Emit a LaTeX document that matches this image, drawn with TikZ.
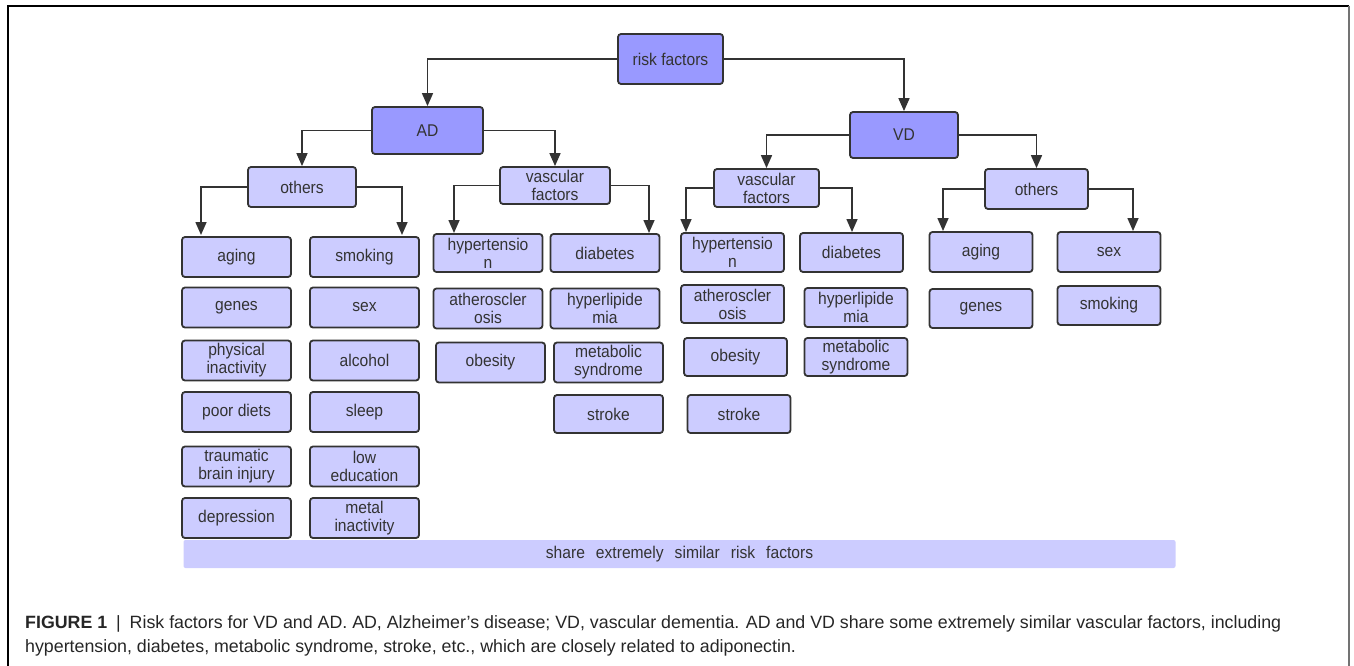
\documentclass[tikz,border=0pt]{standalone}
\usepackage{fontspec}
\setmainfont{Liberation Sans}
\newfontfamily\boxfont[FakeStretch=0.92]{Liberation Sans}
\usetikzlibrary{arrows.meta}
\definecolor{dkblue}{RGB}{153,153,255}
\definecolor{ltblue}{RGB}{204,204,255}
\definecolor{edge}{RGB}{51,51,51}
\tikzset{
	box/.style={draw=edge, line width=1.8pt, rounded corners=3pt, fill=ltblue, text=edge,
		align=center, inner sep=1pt, font=\boxfont\fontsize{17}{18}\selectfont},
	head/.style={box, fill=dkblue},
	wide/.style={box, minimum width=109pt, minimum height=40pt},
	slim/.style={box, minimum width=103pt, minimum height=39pt},
	conn/.style={draw=edge, line width=1.6pt, -{Triangle[length=13pt,width=11pt]}},
	captxt/.style={anchor=base west, inner sep=0pt, text=black!85, font=\fontsize{17.8}{20}\selectfont},
}

\begin{document}
\begin{tikzpicture}[x=1pt,y=-1pt]
		%%%%% START %%%%%
		\useasboundingbox (0,0) rectangle (1354,666);
		
		% frame
		\draw[line width=1.8pt] (8,666) -- (8,6) -- (1349,6);
		\draw[line width=1.8pt, color=black!55] (1349,6) -- (1349,666);
		
		% top levels
		\node[head, minimum width=105pt, minimum height=50pt] (risk) at (670.5,59) {risk factors};
		\node[head, minimum width=111pt, minimum height=47pt] (ad) at (427.5,130.5) {AD};
		\node[head, minimum width=108pt, minimum height=46pt] (vd) at (904,135) {VD};
		
		\node[box, minimum width=108pt, minimum height=40pt] (adoth) at (302,187) {others};
		\node[box, minimum width=110pt, minimum height=37pt] (advasc) at (555,185.5) {vascular\\factors};
		\node[box, minimum width=105pt, minimum height=38pt] (vdvasc) at (766.5,188) {vascular\\factors};
		\node[box, minimum width=103pt, minimum height=40pt] (vdoth) at (1036.5,189) {others};
		
		\draw[conn] (risk.west) -| (ad.north);
		\draw[conn] (risk.east) -| (vd.north);
		\draw[conn] (ad.west) -| (adoth.north);
		\draw[conn] (ad.east) -| (advasc.north);
		\draw[conn] (vd.west) -| (vdvasc.north);
		\draw[conn] (vd.east) -| (vdoth.north);
		
		% arrow ends above the leaf columns
		\coordinate (adothL) at (201,235);
		\coordinate (adothR) at (402,235);
		\coordinate (advascL) at (454,233);
		\coordinate (advascR) at (649,233);
		\coordinate (vdvascL) at (686,232);
		\coordinate (vdvascR) at (852,232);
		\coordinate (vdothL) at (943,231);
		\coordinate (vdothR) at (1133,231);
		
		\draw[conn] (adoth.west) -| (adothL);
		\draw[conn] (adoth.east) -| (adothR);
		\draw[conn] (advasc.west) -| (advascL);
		\draw[conn] (advasc.east) -| (advascR);
		\draw[conn] (vdvasc.west) -| (vdvascL);
		\draw[conn] (vdvasc.east) -| (vdvascR);
		\draw[conn] (vdoth.west) -| (vdothL);
		\draw[conn] (vdoth.east) -| (vdothR);
		
		% AD, others
		\node[wide] (adaging) at (236.5,257) {aging};
		\node[wide] (adgenes) at (236.5,307.5) {genes};
		\node[wide] (adphys) at (236.5,360.5) {physical\\inactivity};
		\node[wide] (addiet) at (236.5,412) {poor diets};
		\node[wide] (adtbi) at (236.5,466.5) {traumatic\\brain injury};
		\node[wide] (addepr) at (236.5,518) {depression};
		\node[wide] (adsmok) at (364.5,257) {smoking};
		\node[wide] (adsex) at (364.5,307.5) {sex};
		\node[wide] (adalc) at (364.5,360.5) {alcohol};
		\node[wide] (adsleep) at (364.5,412) {sleep};
		\node[wide] (adedu) at (364.5,466.5) {low\\education};
		\node[wide] (admetal) at (364.5,518) {metal\\inactivity};
		
		% AD, vascular factors
		\node[wide, minimum height=38pt] (adhyp) at (488,253) {hypertensio\\n};
		\node[wide] (adath) at (488,308.5) {atheroscler\\osis};
		\node[wide] (adobes) at (490.5,362.5) {obesity};
		\node[wide, minimum height=38pt] (addiab) at (605,253) {diabetes};
		\node[wide] (adlip) at (605,308.5) {hyperlipide\\mia};
		\node[wide] (admeta) at (608.5,362.5) {metabolic\\syndrome};
		\node[wide, minimum height=38pt] (adstroke) at (608.5,414) {stroke};
		
		% VD, vascular factors
		\node[slim] (vdhyp) at (732.5,252.5) {hypertensio\\n};
		\node[slim, minimum height=38pt] (vdath) at (732.5,304) {atheroscler\\osis};
		\node[slim, minimum height=38pt] (vdobes) at (735.5,357) {obesity};
		\node[slim, minimum height=38pt] (vdstroke) at (739,414) {stroke};
		\node[slim] (vddiab) at (851.5,252.5) {diabetes};
		\node[slim] (vdlip) at (856,307.5) {hyperlipide\\mia};
		\node[slim, minimum height=38pt] (vdmeta) at (856,357) {metabolic\\syndrome};
		
		% VD, others
		\node[slim, minimum height=40pt] (vdaging) at (981,252) {aging};
		\node[slim] (vdgenes) at (981,308.5) {genes};
		\node[slim, minimum height=40pt] (vdsex) at (1109,252) {sex};
		\node[slim] (vdsmok) at (1109,305.5) {smoking};
		
		% shared bar
		\node[fill=ltblue, rounded corners=2pt, minimum width=992pt, minimum height=28pt, inner sep=0pt,
			text=edge, font=\boxfont\fontsize{17}{18}\selectfont] (share) at (679.5,554)
			{share\hspace{11pt}extremely\hspace{11pt}similar\hspace{11pt}risk\hspace{11pt}factors};
		
		% caption
		\node[captxt] (cap1) at (25,628)
			{\textbf{FIGURE 1}\enspace|\enspace Risk factors for VD and AD. AD, Alzheimer's disease; VD, vascular dementia. AD and VD share some extremely similar vascular factors, including};
		\node[captxt] (cap2) at (25,652)
			{hypertension, diabetes, metabolic syndrome, stroke, etc., which are closely related to adiponectin.};
		%%%%% END %%%%%
\end{tikzpicture}
\end{document}
